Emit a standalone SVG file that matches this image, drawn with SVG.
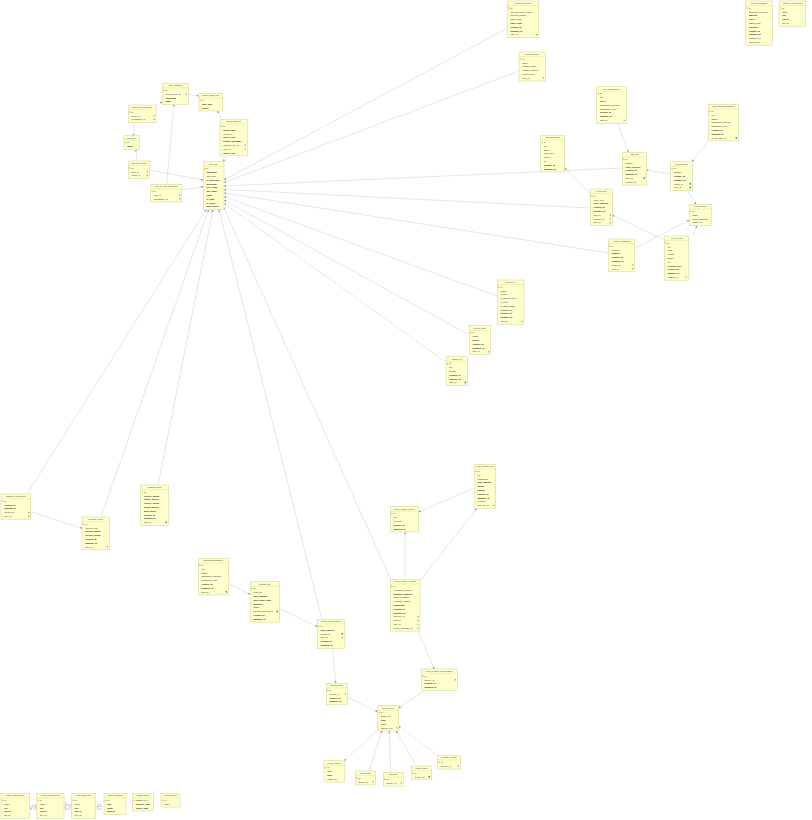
<svg xmlns="http://www.w3.org/2000/svg" width="812" height="820" viewBox="0 0 812 820">
<defs>
<style>
.b{fill:#ffffcc;stroke:#d8d89c;stroke-width:0.6}
.s{stroke:#d8d89c;stroke-width:0.4}
.h{font-family:"Liberation Sans",Arial,sans-serif;font-size:1.8px;fill:#333;text-anchor:middle}
.t{font-family:"Liberation Sans",Arial,sans-serif;font-size:2.2px;fill:#222}
.t.k{font-weight:bold}
.ky{fill:#d9b13c}
.fk{fill:#8c8c8c}
.fk2{fill:#3f8f86}
.c{fill:none;stroke:#c9c9c9;stroke-width:0.45}
.wm{font-family:"Liberation Sans",Arial,sans-serif;font-size:11px;fill:#c8c8d4}
</style>
<marker id="ar" viewBox="0 0 4 4" refX="4" refY="2" markerWidth="2.2" markerHeight="2.2" orient="auto" markerUnits="userSpaceOnUse"><path d="M0,0 L4,2 L0,4 z" fill="#8a8a8a"/></marker>
</defs>
<rect width="812" height="820" fill="#ffffff"/>
<g id="watermark">
<text class="wm" x="28.3" y="810">ve</text>
<text class="wm" x="64.2" y="810">by</text>
<text class="wm" x="96.2" y="810">e</text>
</g>

<g id="connectors">
<line class="c" x1="155" y1="106.7" x2="162.3" y2="101.7" marker-end="url(#ar)"/>
<line class="c" x1="188.3" y1="94" x2="199" y2="96" marker-end="url(#ar)"/>
<line class="c" x1="221.7" y1="119.3" x2="217.3" y2="110.7" marker-end="url(#ar)"/>
<line class="c" x1="226.7" y1="154" x2="223.3" y2="161.7" marker-end="url(#ar)"/>
<line class="c" x1="135" y1="121.7" x2="133.3" y2="135.7" marker-end="url(#ar)"/>
<line class="c" x1="136.7" y1="161" x2="136" y2="149.3" marker-end="url(#ar)"/>
<line class="c" x1="149.3" y1="170" x2="203.3" y2="180" marker-end="url(#ar)"/>
<line class="c" x1="181.7" y1="190" x2="203.3" y2="186.7" marker-end="url(#ar)"/>
<line class="c" x1="166.7" y1="184.3" x2="174" y2="104.3" marker-end="url(#ar)"/>
<line class="c" x1="507.3" y1="28.3" x2="224" y2="180" marker-end="url(#ar)"/>
<line class="c" x1="519" y1="71" x2="224" y2="182.5" marker-end="url(#ar)"/>
<line class="c" x1="622.3" y1="168" x2="224" y2="186" marker-end="url(#ar)"/>
<line class="c" x1="590.3" y1="208" x2="224" y2="189.5" marker-end="url(#ar)"/>
<line class="c" x1="608.3" y1="253" x2="224" y2="193" marker-end="url(#ar)"/>
<line class="c" x1="497.3" y1="296" x2="224" y2="196.5" marker-end="url(#ar)"/>
<line class="c" x1="469.3" y1="335" x2="224" y2="200" marker-end="url(#ar)"/>
<line class="c" x1="446" y1="362" x2="224" y2="203.5" marker-end="url(#ar)"/>
<line class="c" x1="27" y1="494" x2="206" y2="209.7" marker-end="url(#ar)"/>
<line class="c" x1="101" y1="517" x2="208.5" y2="209.7" marker-end="url(#ar)"/>
<line class="c" x1="158" y1="485" x2="213" y2="209.7" marker-end="url(#ar)"/>
<line class="c" x1="322" y1="619.3" x2="219" y2="209.7" marker-end="url(#ar)"/>
<line class="c" x1="391" y1="580" x2="223.5" y2="207" marker-end="url(#ar)"/>
<line class="c" x1="30.7" y1="511.7" x2="82" y2="528.3" marker-end="url(#ar)"/>
<line class="c" x1="228.3" y1="583.3" x2="250.3" y2="594.3" marker-end="url(#ar)"/>
<line class="c" x1="279.3" y1="608.3" x2="317.3" y2="626.7" marker-end="url(#ar)"/>
<line class="c" x1="332.3" y1="647" x2="335.7" y2="683.3" marker-end="url(#ar)"/>
<line class="c" x1="347.3" y1="697" x2="377.7" y2="712" marker-end="url(#ar)"/>
<line class="c" x1="378" y1="729" x2="344.3" y2="760.7" marker-end="url(#ar)"/>
<line class="c" x1="369.3" y1="771" x2="382" y2="730.9" marker-end="url(#ar)"/>
<line class="c" x1="390.7" y1="772.3" x2="389.3" y2="730.9" marker-end="url(#ar)"/>
<line class="c" x1="416.7" y1="766" x2="396" y2="730.9" marker-end="url(#ar)"/>
<line class="c" x1="438.3" y1="756" x2="398.7" y2="726" marker-end="url(#ar)"/>
<line class="c" x1="428" y1="688.4" x2="398.7" y2="708" marker-end="url(#ar)"/>
<line class="c" x1="418" y1="631.1" x2="434.3" y2="669" marker-end="url(#ar)"/>
<line class="c" x1="405" y1="579.3" x2="405" y2="531.9" marker-end="url(#ar)"/>
<line class="c" x1="420" y1="581" x2="476.7" y2="508.5" marker-end="url(#ar)"/>
<line class="c" x1="474.3" y1="488" x2="418.7" y2="512" marker-end="url(#ar)"/>
<line class="c" x1="617.3" y1="123.3" x2="628.3" y2="152.3" marker-end="url(#ar)"/>
<line class="c" x1="708.3" y1="140.5" x2="692" y2="161.7" marker-end="url(#ar)"/>
<line class="c" x1="670.7" y1="174" x2="646.3" y2="170" marker-end="url(#ar)"/>
<line class="c" x1="688" y1="190.7" x2="696" y2="204.3" marker-end="url(#ar)"/>
<line class="c" x1="693.3" y1="236" x2="696.7" y2="225.7" marker-end="url(#ar)"/>
<line class="c" x1="634.7" y1="248.3" x2="689.3" y2="220" marker-end="url(#ar)"/>
<line class="c" x1="590.3" y1="193.3" x2="564.3" y2="167.7" marker-end="url(#ar)"/>
<line class="c" x1="664.3" y1="240" x2="612.3" y2="215" marker-end="url(#ar)"/>
</g>

<g id="auth_permission" transform="translate(162.3,83.3)">
<rect class="b" width="26" height="21.4"/><text class="h" x="13" y="3.2">auth_permission</text><line class="s" x1="0" y1="4.6" x2="26" y2="4.6"/>
<rect class="ky" x="0.8" y="6.4" width="1.4" height="1.2"/>
<text class="t" x="3.2" y="7.8">id</text><text class="t" x="3.2" y="11.6">content_type_id</text><text class="t k" x="3.2" y="15.4">codename</text><text class="t k" x="3.2" y="19.2">name</text>
<rect class="fk" x="23.4" y="10.2" width="1.2" height="1.2"/>
</g>
<g id="django_content_type" transform="translate(199,93.3)">
<rect class="b" width="23.7" height="17.6"/><text class="h" x="11.85" y="3.2">django_content_type</text><line class="s" x1="0" y1="4.6" x2="23.7" y2="4.6"/>
<rect class="ky" x="0.8" y="6.4" width="1.4" height="1.2"/>
<text class="t" x="3.2" y="7.8">id</text><text class="t k" x="3.2" y="11.6">app_label</text><text class="t k" x="3.2" y="15.4">model</text>
</g>
<g id="auth_group_permissions" transform="translate(128.3,105)">
<rect class="b" width="27.7" height="17.6"/><text class="h" x="13.85" y="3.2">auth_group_permissions</text><line class="s" x1="0" y1="4.6" x2="27.7" y2="4.6"/>
<rect class="ky" x="0.8" y="6.4" width="1.4" height="1.2"/>
<text class="t" x="3.2" y="7.8">id</text><text class="t" x="3.2" y="11.6">group_id</text><text class="t" x="3.2" y="15.4">permission_id</text>
<rect class="fk" x="25.1" y="10.2" width="1.2" height="1.2"/><rect class="fk" x="25.1" y="14" width="1.2" height="1.2"/>
</g>
<g id="auth_group" transform="translate(124,135.7)">
<rect class="b" width="15.3" height="13.8"/><text class="h" x="7.65" y="3.2">auth_group</text><line class="s" x1="0" y1="4.6" x2="15.3" y2="4.6"/>
<rect class="ky" x="0.8" y="6.4" width="1.4" height="1.2"/>
<text class="t" x="3.2" y="7.8">id</text><text class="t k" x="3.2" y="11.6">name</text>
</g>
<g id="auth_user_groups" transform="translate(128.3,161)">
<rect class="b" width="21" height="17.6"/><text class="h" x="10.5" y="3.2">auth_user_groups</text><line class="s" x1="0" y1="4.6" x2="21" y2="4.6"/>
<rect class="ky" x="0.8" y="6.4" width="1.4" height="1.2"/>
<text class="t" x="3.2" y="7.8">id</text><text class="t" x="3.2" y="11.6">user_id</text><text class="t" x="3.2" y="15.4">group_id</text>
<rect class="fk" x="18.4" y="10.2" width="1.2" height="1.2"/><rect class="fk" x="18.4" y="14" width="1.2" height="1.2"/>
</g>
<g id="django_admin_log" transform="translate(220,119.3)">
<rect class="b" width="27.3" height="36.6"/><text class="h" x="13.65" y="3.2">django_admin_log</text><line class="s" x1="0" y1="4.6" x2="27.3" y2="4.6"/>
<rect class="ky" x="0.8" y="6.4" width="1.4" height="1.2"/>
<text class="t" x="3.2" y="7.8">id</text><text class="t k" x="3.2" y="11.6">action_time</text><text class="t" x="3.2" y="15.4">object_id</text><text class="t k" x="3.2" y="19.2">object_repr</text><text class="t k" x="3.2" y="23">change_message</text><text class="t" x="3.2" y="26.8">content_type_id</text><text class="t" x="3.2" y="30.6">user_id</text><text class="t k" x="3.2" y="34.4">action_flag</text>
<rect class="fk" x="24.7" y="25.4" width="1.2" height="1.2"/><rect class="fk" x="24.7" y="29.2" width="1.2" height="1.2"/>
</g>
<g id="auth_user" transform="translate(203.3,161.7)">
<rect class="b" width="20.7" height="48"/><text class="h" x="10.35" y="3.2">auth_user</text><line class="s" x1="0" y1="4.6" x2="20.7" y2="4.6"/>
<rect class="ky" x="0.8" y="6.4" width="1.4" height="1.2"/>
<text class="t" x="3.2" y="7.8">id</text><text class="t k" x="3.2" y="11.6">password</text><text class="t" x="3.2" y="15.4">last_login</text><text class="t k" x="3.2" y="19.2">is_superuser</text><text class="t k" x="3.2" y="23">username</text><text class="t k" x="3.2" y="26.8">first_name</text><text class="t k" x="3.2" y="30.6">last_name</text><text class="t k" x="3.2" y="34.4">email</text><text class="t k" x="3.2" y="38.2">is_staff</text><text class="t k" x="3.2" y="42">is_active</text><text class="t k" x="3.2" y="45.8">date_joined</text>
</g>
<g id="auth_user_user_permissions" transform="translate(150.7,184.3)">
<rect class="b" width="31" height="17.6"/><text class="h" x="15.5" y="3.2">auth_user_user_permissions</text><line class="s" x1="0" y1="4.6" x2="31" y2="4.6"/>
<rect class="ky" x="0.8" y="6.4" width="1.4" height="1.2"/>
<text class="t" x="3.2" y="7.8">id</text><text class="t" x="3.2" y="11.6">user_id</text><text class="t" x="3.2" y="15.4">permission_id</text>
<rect class="fk" x="28.4" y="10.2" width="1.2" height="1.2"/><rect class="fk" x="28.4" y="14" width="1.2" height="1.2"/>
</g>

<g id="account_beneficiary" transform="translate(507.3,1)">
<rect class="b" width="31.4" height="36.6"/><text class="h" x="15.7" y="3.2">account_beneficiary</text><line class="s" x1="0" y1="4.6" x2="31.4" y2="4.6"/>
<rect class="ky" x="0.8" y="6.4" width="1.4" height="1.2"/>
<text class="t" x="3.2" y="7.8">id</text><text class="t" x="3.2" y="11.6">account_holder_name</text><text class="t" x="3.2" y="15.4">account_number</text><text class="t" x="3.2" y="19.2">bank_name</text><text class="t k" x="3.2" y="23">bank_code</text><text class="t k" x="3.2" y="26.8">created_at</text><text class="t k" x="3.2" y="30.6">updated_at</text><text class="t" x="3.2" y="34.4">user_id</text>
<rect class="fk" x="28.8" y="33" width="1.2" height="1.2"/>
</g>
<g id="account_contact" transform="translate(519,52)">
<rect class="b" width="26.3" height="29"/><text class="h" x="13.15" y="3.2">account_contact</text><line class="s" x1="0" y1="4.6" x2="26.3" y2="4.6"/>
<rect class="ky" x="0.8" y="6.4" width="1.4" height="1.2"/>
<text class="t" x="3.2" y="7.8">id</text><text class="t" x="3.2" y="11.6">name</text><text class="t" x="3.2" y="15.4">contact_email</text><text class="t" x="3.2" y="19.2">contact_number</text><text class="t" x="3.2" y="23">contact_type</text><text class="t" x="3.2" y="26.8">user_id</text>
<rect class="fk" x="23.7" y="25.4" width="1.2" height="1.2"/>
</g>
<g id="payment_transaction" transform="translate(745.7,1)">
<rect class="b" width="26.6" height="44.2"/><text class="h" x="13.3" y="3.2">payment_transaction</text><line class="s" x1="0" y1="4.6" x2="26.6" y2="4.6"/>
<rect class="ky" x="0.8" y="6.4" width="1.4" height="1.2"/>
<text class="t" x="3.2" y="7.8">id</text><text class="t" x="3.2" y="11.6">payment_reference</text><text class="t k" x="3.2" y="15.4">amount</text><text class="t" x="3.2" y="19.2">status</text><text class="t" x="3.2" y="23">status_code</text><text class="t k" x="3.2" y="26.8">currency</text><text class="t k" x="3.2" y="30.6">created_at</text><text class="t k" x="3.2" y="34.4">updated_at</text><text class="t" x="3.2" y="38.2">customer_id</text><text class="t" x="3.2" y="42">payment_id</text>
</g>
<g id="electricity_powerprovider" transform="translate(779,1)">
<rect class="b" width="26.7" height="25.2"/><text class="h" x="13.35" y="3.2">electricity_powerprovider</text><line class="s" x1="0" y1="4.6" x2="26.7" y2="4.6"/>
<rect class="ky" x="0.8" y="6.4" width="1.4" height="1.2"/>
<text class="t" x="3.2" y="7.8">id</text><text class="t" x="3.2" y="11.6">name</text><text class="t k" x="3.2" y="15.4">key</text><text class="t k" x="3.2" y="19.2">secret</text><text class="t" x="3.2" y="23">api_url</text>
</g>

<g id="card_cardtransaction" transform="translate(596.7,86.7)">
<rect class="b" width="29.6" height="36.6"/><text class="h" x="14.8" y="3.2">card_cardtransaction</text><line class="s" x1="0" y1="4.6" x2="29.6" y2="4.6"/>
<rect class="ky" x="0.8" y="6.4" width="1.4" height="1.2"/>
<text class="t" x="3.2" y="7.8">id</text><text class="t" x="3.2" y="11.6">uid</text><text class="t" x="3.2" y="15.4">status</text><text class="t" x="3.2" y="19.2">transaction_amount</text><text class="t" x="3.2" y="23">transaction_type</text><text class="t k" x="3.2" y="26.8">created_at</text><text class="t k" x="3.2" y="30.6">updated_at</text><text class="t" x="3.2" y="34.4">card_id</text>
<rect class="fk" x="27" y="33" width="1.2" height="1.2"/>
</g>
<g id="card_cryptocardtransaction" transform="translate(708.3,104.3)">
<rect class="b" width="30" height="36.6"/><text class="h" x="15" y="3.2">card_cryptocardtransaction</text><line class="s" x1="0" y1="4.6" x2="30" y2="4.6"/>
<rect class="ky" x="0.8" y="6.4" width="1.4" height="1.2"/>
<text class="t" x="3.2" y="7.8">id</text><text class="t" x="3.2" y="11.6">uid</text><text class="t" x="3.2" y="15.4">status</text><text class="t" x="3.2" y="19.2">transaction_amount</text><text class="t" x="3.2" y="23">transaction_type</text><text class="t k" x="3.2" y="26.8">created_at</text><text class="t k" x="3.2" y="30.6">updated_at</text><text class="t" x="3.2" y="34.4">crypto_card_id</text>
<rect class="fk2" x="27.2" y="32.8" width="1.6" height="1.6"/>
</g>
<g id="card_cardprovider" transform="translate(540.7,135.3)">
<rect class="b" width="23.6" height="36.6"/><text class="h" x="11.8" y="3.2">card_cardprovider</text><line class="s" x1="0" y1="4.6" x2="23.6" y2="4.6"/>
<rect class="ky" x="0.8" y="6.4" width="1.4" height="1.2"/>
<text class="t" x="3.2" y="7.8">id</text><text class="t" x="3.2" y="11.6">uid</text><text class="t" x="3.2" y="15.4">name</text><text class="t" x="3.2" y="19.2">card_type</text><text class="t" x="3.2" y="23">image</text><text class="t" x="3.2" y="26.8">url</text><text class="t k" x="3.2" y="30.6">created_at</text><text class="t k" x="3.2" y="34.4">updated_at</text>
</g>
<g id="card_card" transform="translate(622.3,152.3)">
<rect class="b" width="24" height="32.8"/><text class="h" x="12" y="3.2">card_card</text><line class="s" x1="0" y1="4.6" x2="24" y2="4.6"/>
<rect class="ky" x="0.8" y="6.4" width="1.4" height="1.2"/>
<text class="t" x="3.2" y="7.8">id</text><text class="t" x="3.2" y="11.6">balance</text><text class="t k" x="3.2" y="15.4">card_currency</text><text class="t k" x="3.2" y="19.2">created_at</text><text class="t k" x="3.2" y="23">updated_at</text><text class="t" x="3.2" y="26.8">user_id</text><text class="t" x="3.2" y="30.6">provider_id</text>
<rect class="fk2" x="21.2" y="25" width="1.6" height="1.6"/>
</g>
<g id="card_cryptocard" transform="translate(670.7,161.7)">
<rect class="b" width="21.6" height="29"/><text class="h" x="10.8" y="3.2">card_cryptocard</text><line class="s" x1="0" y1="4.6" x2="21.6" y2="4.6"/>
<rect class="ky" x="0.8" y="6.4" width="1.4" height="1.2"/>
<text class="t" x="3.2" y="7.8">id</text><text class="t" x="3.2" y="11.6">balance</text><text class="t k" x="3.2" y="15.4">created_at</text><text class="t k" x="3.2" y="19.2">updated_at</text><text class="t" x="3.2" y="23">crypto_id</text><text class="t" x="3.2" y="26.8">user_id</text>
<rect class="fk2" x="18.8" y="21.2" width="1.6" height="1.6"/><rect class="fk2" x="18.8" y="25" width="1.6" height="1.6"/>
</g>
<g id="crypto_order" transform="translate(590.3,189)">
<rect class="b" width="22" height="36.6"/><text class="h" x="11" y="3.2">crypto_order</text><line class="s" x1="0" y1="4.6" x2="22" y2="4.6"/>
<rect class="ky" x="0.8" y="6.4" width="1.4" height="1.2"/>
<text class="t" x="3.2" y="7.8">id</text><text class="t" x="3.2" y="11.6">order_type</text><text class="t k" x="3.2" y="15.4">order_amount</text><text class="t k" x="3.2" y="19.2">created_at</text><text class="t k" x="3.2" y="23">updated_at</text><text class="t" x="3.2" y="26.8">coin_id</text><text class="t" x="3.2" y="30.6">provider_id</text><text class="t" x="3.2" y="34.4">user_id</text>
<rect class="fk" x="19.4" y="25.4" width="1.2" height="1.2"/><rect class="fk" x="19.4" y="29.2" width="1.2" height="1.2"/><rect class="fk" x="19.4" y="33" width="1.2" height="1.2"/>
</g>
<g id="crypto_network" transform="translate(689.3,204.3)">
<rect class="b" width="22" height="21.4"/><text class="h" x="11" y="3.2">crypto_network</text><line class="s" x1="0" y1="4.6" x2="22" y2="4.6"/>
<rect class="ky" x="0.8" y="6.4" width="1.4" height="1.2"/>
<text class="t" x="3.2" y="7.8">id</text><text class="t" x="3.2" y="11.6">name</text><text class="t" x="3.2" y="15.4">wallet_address</text><text class="t" x="3.2" y="19.2">image_url</text>
</g>
<g id="crypto_cryptoaddress" transform="translate(608.3,239)">
<rect class="b" width="26.4" height="32.8"/><text class="h" x="13.2" y="3.2">crypto_cryptoaddress</text><line class="s" x1="0" y1="4.6" x2="26.4" y2="4.6"/>
<rect class="ky" x="0.8" y="6.4" width="1.4" height="1.2"/>
<text class="t" x="3.2" y="7.8">id</text><text class="t" x="3.2" y="11.6">address</text><text class="t k" x="3.2" y="15.4">network</text><text class="t k" x="3.2" y="19.2">created_at</text><text class="t k" x="3.2" y="23">updated_at</text><text class="t" x="3.2" y="26.8">crypto_id</text><text class="t" x="3.2" y="30.6">user_id</text>
<rect class="fk" x="23.8" y="25.4" width="1.2" height="1.2"/><rect class="fk" x="23.8" y="29.2" width="1.2" height="1.2"/>
</g>
<g id="crypto_crypto" transform="translate(664.3,236)">
<rect class="b" width="24" height="44.2"/><text class="h" x="12" y="3.2">crypto_crypto</text><line class="s" x1="0" y1="4.6" x2="24" y2="4.6"/>
<rect class="ky" x="0.8" y="6.4" width="1.4" height="1.2"/>
<text class="t" x="3.2" y="7.8">id</text><text class="t" x="3.2" y="11.6">uid</text><text class="t" x="3.2" y="15.4">name</text><text class="t" x="3.2" y="19.2">symbol</text><text class="t" x="3.2" y="23">image</text><text class="t" x="3.2" y="26.8">url</text><text class="t k" x="3.2" y="30.6">current_price</text><text class="t k" x="3.2" y="34.4">created_at</text><text class="t k" x="3.2" y="38.2">updated_at</text><text class="t" x="3.2" y="42">network_id</text>
<rect class="fk" x="21.4" y="40.6" width="1.2" height="1.2"/>
</g>

<g id="account_kyc" transform="translate(497.3,280)">
<rect class="b" width="26.7" height="44.2"/><text class="h" x="13.35" y="3.2">account_kyc</text><line class="s" x1="0" y1="4.6" x2="26.7" y2="4.6"/>
<rect class="ky" x="0.8" y="6.4" width="1.4" height="1.2"/>
<text class="t" x="3.2" y="7.8">id</text><text class="t" x="3.2" y="11.6">status</text><text class="t" x="3.2" y="15.4">id_type</text><text class="t" x="3.2" y="19.2">id_number_type</text><text class="t" x="3.2" y="23">id_front</text><text class="t" x="3.2" y="26.8">id_back_image</text><text class="t k" x="3.2" y="30.6">verified_at</text><text class="t k" x="3.2" y="34.4">created_at</text><text class="t k" x="3.2" y="38.2">updated_at</text><text class="t" x="3.2" y="42">user_id</text>
<rect class="fk" x="24.1" y="40.6" width="1.2" height="1.2"/>
</g>
<g id="account_profile" transform="translate(469.3,325.7)">
<rect class="b" width="21.4" height="29"/><text class="h" x="10.7" y="3.2">account_profile</text><line class="s" x1="0" y1="4.6" x2="21.4" y2="4.6"/>
<rect class="ky" x="0.8" y="6.4" width="1.4" height="1.2"/>
<text class="t" x="3.2" y="7.8">id</text><text class="t" x="3.2" y="11.6">image</text><text class="t k" x="3.2" y="15.4">phone</text><text class="t k" x="3.2" y="19.2">created_at</text><text class="t k" x="3.2" y="23">updated_at</text><text class="t" x="3.2" y="26.8">user_id</text>
<rect class="fk" x="18.8" y="25.4" width="1.2" height="1.2"/>
</g>
<g id="account_pin" transform="translate(446,356.7)">
<rect class="b" width="21.3" height="29"/><text class="h" x="10.65" y="3.2">account_pin</text><line class="s" x1="0" y1="4.6" x2="21.3" y2="4.6"/>
<rect class="ky" x="0.8" y="6.4" width="1.4" height="1.2"/>
<text class="t" x="3.2" y="7.8">id</text><text class="t" x="3.2" y="11.6">pin</text><text class="t k" x="3.2" y="15.4">is_set</text><text class="t k" x="3.2" y="19.2">created_at</text><text class="t k" x="3.2" y="23">updated_at</text><text class="t" x="3.2" y="26.8">user_id</text>
<rect class="fk2" x="18.5" y="25" width="1.6" height="1.6"/>
</g>

<g id="promotion_referralreward" transform="translate(1,494)">
<rect class="b" width="29.7" height="25.2"/><text class="h" x="14.85" y="3.2">promotion_referralreward</text><line class="s" x1="0" y1="4.6" x2="29.7" y2="4.6"/>
<rect class="ky" x="0.8" y="6.4" width="1.4" height="1.2"/>
<text class="t" x="3.2" y="7.8">id</text><text class="t k" x="3.2" y="11.6">created_at</text><text class="t k" x="3.2" y="15.4">updated_at</text><text class="t" x="3.2" y="19.2">referral_id</text><text class="t" x="3.2" y="23">user_id</text>
<rect class="fk" x="27.1" y="17.8" width="1.2" height="1.2"/><rect class="fk" x="27.1" y="21.6" width="1.2" height="1.2"/>
</g>
<g id="promotion_referral" transform="translate(82,517)">
<rect class="b" width="27.3" height="32.8"/><text class="h" x="13.65" y="3.2">promotion_referral</text><line class="s" x1="0" y1="4.6" x2="27.3" y2="4.6"/>
<rect class="ky" x="0.8" y="6.4" width="1.4" height="1.2"/>
<text class="t" x="3.2" y="7.8">id</text><text class="t" x="3.2" y="11.6">referral_code</text><text class="t k" x="3.2" y="15.4">referral_bonus</text><text class="t k" x="3.2" y="19.2">referral_points</text><text class="t k" x="3.2" y="23">created_at</text><text class="t k" x="3.2" y="26.8">updated_at</text><text class="t" x="3.2" y="30.6">user_id</text>
<rect class="fk" x="24.7" y="29.2" width="1.2" height="1.2"/>
</g>
<g id="promotion_wallet" transform="translate(140.7,485)">
<rect class="b" width="27.6" height="40.4"/><text class="h" x="13.8" y="3.2">promotion_wallet</text><line class="s" x1="0" y1="4.6" x2="27.6" y2="4.6"/>
<rect class="ky" x="0.8" y="6.4" width="1.4" height="1.2"/>
<text class="t" x="3.2" y="7.8">id</text><text class="t k" x="3.2" y="11.6">referral_bonus</text><text class="t k" x="3.2" y="15.4">loyalty_bonus</text><text class="t k" x="3.2" y="19.2">referral_points</text><text class="t k" x="3.2" y="23">loyalty_points</text><text class="t k" x="3.2" y="26.8">total_spent</text><text class="t k" x="3.2" y="30.6">created_at</text><text class="t k" x="3.2" y="34.4">updated_at</text><text class="t" x="3.2" y="38.2">user_id</text>
<rect class="fk2" x="24.8" y="36.6" width="1.6" height="1.6"/>
</g>

<g id="savings_goaltransaction" transform="translate(198.3,558.3)">
<rect class="b" width="30" height="36.6"/><text class="h" x="15" y="3.2">savings_goaltransaction</text><line class="s" x1="0" y1="4.6" x2="30" y2="4.6"/>
<rect class="ky" x="0.8" y="6.4" width="1.4" height="1.2"/>
<text class="t" x="3.2" y="7.8">id</text><text class="t" x="3.2" y="11.6">uid</text><text class="t" x="3.2" y="15.4">status</text><text class="t" x="3.2" y="19.2">transaction_amount</text><text class="t" x="3.2" y="23">transaction_type</text><text class="t k" x="3.2" y="26.8">created_at</text><text class="t k" x="3.2" y="30.6">updated_at</text><text class="t" x="3.2" y="34.4">goal_id</text>
<rect class="fk2" x="27.2" y="32.8" width="1.6" height="1.6"/>
</g>
<g id="savings_goal" transform="translate(250.3,581.7)">
<rect class="b" width="29" height="40.4"/><text class="h" x="14.5" y="3.2">savings_goal</text><line class="s" x1="0" y1="4.6" x2="29" y2="4.6"/>
<rect class="ky" x="0.8" y="6.4" width="1.4" height="1.2"/>
<text class="t" x="3.2" y="7.8">id</text><text class="t" x="3.2" y="11.6">goal_uid</text><text class="t k" x="3.2" y="15.4">goal_amount</text><text class="t k" x="3.2" y="19.2">goal_target_date</text><text class="t k" x="3.2" y="23">duration</text><text class="t" x="3.2" y="26.8">status</text><text class="t" x="3.2" y="30.6">savings_account_id</text><text class="t k" x="3.2" y="34.4">created_at</text><text class="t k" x="3.2" y="38.2">updated_at</text>
<rect class="fk2" x="26.2" y="29" width="1.6" height="1.6"/>
</g>
<g id="savings_savingsaccount" transform="translate(317.3,619.3)">
<rect class="b" width="27" height="29"/><text class="h" x="13.5" y="3.2">savings_savingsaccount</text><line class="s" x1="0" y1="4.6" x2="27" y2="4.6"/>
<rect class="ky" x="0.8" y="6.4" width="1.4" height="1.2"/>
<text class="t" x="3.2" y="7.8">id</text><text class="t k" x="3.2" y="11.6">total_balance</text><text class="t" x="3.2" y="15.4">saving_id</text><text class="t" x="3.2" y="19.2">user_id</text><text class="t k" x="3.2" y="23">created_at</text><text class="t k" x="3.2" y="26.8">updated_at</text>
<rect class="fk2" x="24.2" y="13.6" width="1.6" height="1.6"/><rect class="fk" x="24.4" y="17.8" width="1.2" height="1.2"/>
</g>
<g id="savings_saving" transform="translate(326.3,683.3)">
<rect class="b" width="21" height="21.4"/><text class="h" x="10.5" y="3.2">savings_saving</text><line class="s" x1="0" y1="4.6" x2="21" y2="4.6"/>
<rect class="ky" x="0.8" y="6.4" width="1.4" height="1.2"/>
<text class="t" x="3.2" y="7.8">id</text><text class="t" x="3.2" y="11.6">service_id</text><text class="t k" x="3.2" y="15.4">created_at</text><text class="t k" x="3.2" y="19.2">updated_at</text>
<rect class="fk" x="18.4" y="10.2" width="1.2" height="1.2"/>
</g>

<g id="credit_exchange_plan" transform="translate(474.3,464.3)">
<rect class="b" width="21.4" height="44.2"/><text class="h" x="10.7" y="3.2">credit_exchange_plan</text><line class="s" x1="0" y1="4.6" x2="21.4" y2="4.6"/>
<rect class="ky" x="0.8" y="6.4" width="1.4" height="1.2"/>
<text class="t" x="3.2" y="7.8">id</text><text class="t" x="3.2" y="11.6">uid</text><text class="t" x="3.2" y="15.4">description</text><text class="t k" x="3.2" y="19.2">plan_amount</text><text class="t k" x="3.2" y="23">bonus</text><text class="t k" x="3.2" y="26.8">validity</text><text class="t k" x="3.2" y="30.6">created_at</text><text class="t k" x="3.2" y="34.4">updated_at</text><text class="t" x="3.2" y="38.2">is_active</text><text class="t" x="3.2" y="42">currency_id</text>
<rect class="fk" x="18.8" y="40.6" width="1.2" height="1.2"/>
</g>
<g id="credit_exchange_currency" transform="translate(390.3,506.7)">
<rect class="b" width="28.4" height="25.2"/><text class="h" x="14.2" y="3.2">credit_exchange_currency</text><line class="s" x1="0" y1="4.6" x2="28.4" y2="4.6"/>
<rect class="ky" x="0.8" y="6.4" width="1.4" height="1.2"/>
<text class="t" x="3.2" y="7.8">id</text><text class="t" x="3.2" y="11.6">uid</text><text class="t" x="3.2" y="15.4">currency</text><text class="t k" x="3.2" y="19.2">created_at</text><text class="t k" x="3.2" y="23">updated_at</text>
</g>
<g id="credit_exchange_exchange" transform="translate(390.3,579.3)">
<rect class="b" width="29.7" height="51.8"/><text class="h" x="14.85" y="3.2">credit_exchange_exchange</text><line class="s" x1="0" y1="4.6" x2="29.7" y2="4.6"/>
<rect class="ky" x="0.8" y="6.4" width="1.4" height="1.2"/>
<text class="t" x="3.2" y="7.8">id</text><text class="t" x="3.2" y="11.6">exchange_number</text><text class="t k" x="3.2" y="15.4">payment_amount</text><text class="t" x="3.2" y="19.2">payment_status</text><text class="t" x="3.2" y="23">exchange_status</text><text class="t k" x="3.2" y="26.8">completed</text><text class="t k" x="3.2" y="30.6">created_at</text><text class="t k" x="3.2" y="34.4">updated_at</text><text class="t" x="3.2" y="38.2">currency_id</text><text class="t" x="3.2" y="42">plan_id</text><text class="t" x="3.2" y="45.8">user_id</text><text class="t" x="3.2" y="49.6">credit_exchange_id</text>
<rect class="fk" x="27.1" y="36.8" width="1.2" height="1.2"/><rect class="fk" x="27.1" y="40.6" width="1.2" height="1.2"/><rect class="fk" x="27.1" y="44.4" width="1.2" height="1.2"/><rect class="fk" x="27.1" y="48.2" width="1.2" height="1.2"/>
</g>
<g id="credit_exchange_creditexchange" transform="translate(421.3,669)">
<rect class="b" width="36" height="21.4"/><text class="h" x="18" y="3.2">credit_exchange_creditexchange</text><line class="s" x1="0" y1="4.6" x2="36" y2="4.6"/>
<rect class="ky" x="0.8" y="6.4" width="1.4" height="1.2"/>
<text class="t" x="3.2" y="7.8">id</text><text class="t" x="3.2" y="11.6">service_id</text><text class="t k" x="3.2" y="15.4">created_at</text><text class="t k" x="3.2" y="19.2">updated_at</text>
<rect class="fk" x="33.4" y="10.2" width="1.2" height="1.2"/>
</g>

<g id="service_service" transform="translate(377.7,705.7)">
<rect class="b" width="21" height="25.2"/><text class="h" x="10.5" y="3.2">service_service</text><line class="s" x1="0" y1="4.6" x2="21" y2="4.6"/>
<rect class="ky" x="0.8" y="6.4" width="1.4" height="1.2"/>
<text class="t" x="3.2" y="7.8">id</text><text class="t" x="3.2" y="11.6">image_url</text><text class="t k" x="3.2" y="15.4">slug</text><text class="t" x="3.2" y="19.2">name</text><text class="t" x="3.2" y="23">category_id</text>
<rect class="fk" x="18.4" y="21.6" width="1.2" height="1.2"/>
</g>
<g id="service_category" transform="translate(324,760.7)">
<rect class="b" width="20.3" height="21.4"/><text class="h" x="10.15" y="3.2">service_category</text><line class="s" x1="0" y1="4.6" x2="20.3" y2="4.6"/>
<rect class="ky" x="0.8" y="6.4" width="1.4" height="1.2"/>
<text class="t" x="3.2" y="7.8">id</text><text class="t" x="3.2" y="11.6">name</text><text class="t k" x="3.2" y="15.4">slug</text><text class="t" x="3.2" y="19.2">image_url</text>
</g>
<g id="airtime_airtime" transform="translate(355.3,771)">
<rect class="b" width="20" height="13.8"/><text class="h" x="10" y="3.2">airtime_airtime</text><line class="s" x1="0" y1="4.6" x2="20" y2="4.6"/>
<rect class="ky" x="0.8" y="6.4" width="1.4" height="1.2"/>
<text class="t" x="3.2" y="7.8">id</text><text class="t" x="3.2" y="11.6">service_id</text>
<rect class="fk" x="17.4" y="10.2" width="1.2" height="1.2"/>
</g>
<g id="data_data" transform="translate(383.3,772.3)">
<rect class="b" width="20" height="13.8"/><text class="h" x="10" y="3.2">data_data</text><line class="s" x1="0" y1="4.6" x2="20" y2="4.6"/>
<rect class="ky" x="0.8" y="6.4" width="1.4" height="1.2"/>
<text class="t" x="3.2" y="7.8">id</text><text class="t" x="3.2" y="11.6">service_id</text>
<rect class="fk" x="17.4" y="10.2" width="1.2" height="1.2"/>
</g>
<g id="betting_betting" transform="translate(411.3,766)">
<rect class="b" width="20" height="13.8"/><text class="h" x="10" y="3.2">betting_betting</text><line class="s" x1="0" y1="4.6" x2="20" y2="4.6"/>
<rect class="ky" x="0.8" y="6.4" width="1.4" height="1.2"/>
<text class="t" x="3.2" y="7.8">id</text><text class="t" x="3.2" y="11.6">service_id</text>
<rect class="fk2" x="17.2" y="10" width="1.6" height="1.6"/>
</g>
<g id="electricity_electricity" transform="translate(437.7,755.3)">
<rect class="b" width="22.6" height="13.8"/><text class="h" x="11.3" y="3.2">electricity_electricity</text><line class="s" x1="0" y1="4.6" x2="22.6" y2="4.6"/>
<rect class="ky" x="0.8" y="6.4" width="1.4" height="1.2"/>
<text class="t" x="3.2" y="7.8">id</text><text class="t" x="3.2" y="11.6">service_id</text>
<rect class="fk" x="20" y="10.2" width="1.2" height="1.2"/>
</g>

<g id="airtime_airtimeprovider" transform="translate(1,793.3)">
<rect class="b" width="28.3" height="25.2"/><text class="h" x="14.15" y="3.2">airtime_airtimeprovider</text><line class="s" x1="0" y1="4.6" x2="28.3" y2="4.6"/>
<rect class="ky" x="0.8" y="6.4" width="1.4" height="1.2"/>
<text class="t" x="3.2" y="7.8">id</text><text class="t" x="3.2" y="11.6">name</text><text class="t k" x="3.2" y="15.4">key</text><text class="t k" x="3.2" y="19.2">secret</text><text class="t" x="3.2" y="23">api_url</text>
</g>
<g id="betting_bettingprovider" transform="translate(36.7,793.3)">
<rect class="b" width="27.3" height="25.2"/><text class="h" x="13.65" y="3.2">betting_bettingprovider</text><line class="s" x1="0" y1="4.6" x2="27.3" y2="4.6"/>
<rect class="ky" x="0.8" y="6.4" width="1.4" height="1.2"/>
<text class="t" x="3.2" y="7.8">id</text><text class="t" x="3.2" y="11.6">name</text><text class="t k" x="3.2" y="15.4">key</text><text class="t k" x="3.2" y="19.2">secret</text><text class="t" x="3.2" y="23">api_url</text>
</g>
<g id="data_dataprovider" transform="translate(71.7,793.3)">
<rect class="b" width="24" height="25.2"/><text class="h" x="12" y="3.2">data_dataprovider</text><line class="s" x1="0" y1="4.6" x2="24" y2="4.6"/>
<rect class="ky" x="0.8" y="6.4" width="1.4" height="1.2"/>
<text class="t" x="3.2" y="7.8">id</text><text class="t" x="3.2" y="11.6">name</text><text class="t k" x="3.2" y="15.4">key</text><text class="t k" x="3.2" y="19.2">secret</text><text class="t" x="3.2" y="23">api_url</text>
</g>
<g id="django_migrations" transform="translate(104,793.3)">
<rect class="b" width="22" height="21.4"/><text class="h" x="11" y="3.2">django_migrations</text><line class="s" x1="0" y1="4.6" x2="22" y2="4.6"/>
<rect class="ky" x="0.8" y="6.4" width="1.4" height="1.2"/>
<text class="t" x="3.2" y="7.8">id</text><text class="t k" x="3.2" y="11.6">app</text><text class="t k" x="3.2" y="15.4">name</text><text class="t k" x="3.2" y="19.2">applied</text>
</g>
<g id="django_session" transform="translate(132.7,793.3)">
<rect class="b" width="20.6" height="17.6"/><text class="h" x="10.3" y="3.2">django_session</text><line class="s" x1="0" y1="4.6" x2="20.6" y2="4.6"/>
<rect class="ky" x="0.8" y="6.4" width="1.4" height="1.2"/>
<text class="t" x="3.2" y="7.8">session_key</text><text class="t k" x="3.2" y="11.6">session_data</text><text class="t k" x="3.2" y="15.4">expire_date</text>
</g>
<g id="core_appconfig" transform="translate(161,793.3)">
<rect class="b" width="19" height="13.8"/><text class="h" x="9.5" y="3.2">core_appconfig</text><line class="s" x1="0" y1="4.6" x2="19" y2="4.6"/>
<rect class="ky" x="0.8" y="6.4" width="1.4" height="1.2"/>
<text class="t" x="3.2" y="7.8">id</text><text class="t" x="3.2" y="11.6">name</text>
</g>
</svg>
